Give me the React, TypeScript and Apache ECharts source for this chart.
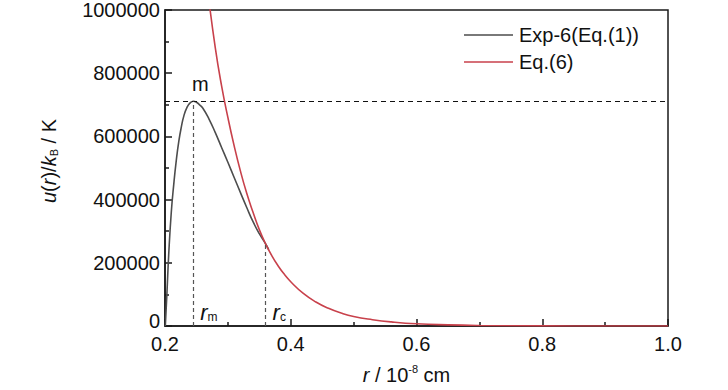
import React, { useEffect, useRef } from "react";
import * as echarts from "echarts";

const exp6R = [0.2005, 0.203, 0.206, 0.21, 0.214, 0.218, 0.222, 0.226, 0.23, 0.235, 0.24, 0.245, 0.25, 0.255, 0.26, 0.27, 0.28, 0.29, 0.3, 0.31, 0.32, 0.33, 0.34, 0.35, 0.36, 0.365];
const exp6U = [0, 100000, 230000, 360000, 450000, 525000, 585000, 630000, 665000, 692000, 706000, 711000, 708000, 700000, 690000, 655000, 612000, 565000, 518000, 470000, 422000, 375000, 330000, 292000, 260000, 242000];

const eq6R = [0.268, 0.28, 0.29, 0.3, 0.31, 0.32, 0.33, 0.34, 0.35, 0.36, 0.37, 0.38, 0.39, 0.4, 0.42, 0.44, 0.46, 0.48, 0.5, 0.53, 0.56, 0.6, 0.65, 0.7, 0.8, 0.9, 1.0];
const eq6U = [1060000, 880000, 760000, 660000, 570000, 490000, 420000, 360000, 305000, 260000, 222000, 190000, 163000, 140000, 103000, 76000, 56000, 41000, 30000, 20000, 13000, 7000, 3500, 1700, 400, 100, 20];

const rM = 0.245;
const uM = 711000;
const rC = 0.36;
const uC = 260000;

const xTicks = { min: 0.2, max: 1.0, interval: 0.2 };
const yTicks = { min: 0, max: 1000000, interval: 200000 };

const seriesNames = ["Exp-6(Eq.(1))", "Eq.(6)"];

export default function App() {
  const ref = useRef<HTMLDivElement>(null);
  useEffect(() => {
    document.body.style.margin = "0";
    if (!ref.current) return;
    const chart = echarts.init(ref.current, undefined, { renderer: "svg" });
    const font = "Liberation Sans, Arial, sans-serif";
    const axisColor = "#1a1a1a";
    const exp6Data = exp6R.map((r, i) => [r, exp6U[i]]);
    const eq6Data = eq6R.map((r, i) => [r, eq6U[i]]);
    const subLabel = (s: string) => ({
      show: true,
      position: "right",
      offset: [2, -14],
      formatter: "{i|r}{sub|" + s + "}",
      rich: {
        i: { fontStyle: "italic", fontSize: 22, fontFamily: font, color: "#111" },
        sub: { fontSize: 12, fontFamily: font, color: "#111", verticalAlign: "bottom", lineHeight: 20 },
      },
    });
    chart.setOption({
      animation: false,
      backgroundColor: "#ffffff",
      textStyle: { fontFamily: font },
      grid: {
        left: 165,
        right: 60,
        top: 9,
        bottom: 58,
        show: true,
        borderColor: axisColor,
        borderWidth: 1.5,
        backgroundColor: "transparent",
      },
      legend: {
        orient: "vertical",
        left: 459,
        top: 20,
        icon: "rect",
        itemWidth: 49,
        itemHeight: 1.5,
        itemGap: 7,
        data: seriesNames,
        textStyle: { fontSize: 20, color: "#111", fontFamily: font, padding: [0, 0, 0, 1] },
      },
      xAxis: {
        type: "value",
        min: xTicks.min,
        max: xTicks.max,
        interval: xTicks.interval,
        name: "{i|r} / 10{sup|-8} cm",
        nameLocation: "middle",
        nameGap: 37,
        nameTextStyle: {
          fontSize: 20,
          color: "#111",
          fontFamily: font,
          padding: [0, 20, 0, 0],
          rich: {
            i: { fontStyle: "italic", fontSize: 20, fontFamily: font, color: "#111" },
            sup: { fontSize: 11, fontFamily: font, color: "#111", verticalAlign: "top", lineHeight: 24 },
          },
        },
        axisLine: { show: true, lineStyle: { color: axisColor, width: 1.5 } },
        axisTick: { show: true, inside: true, length: 7, lineStyle: { color: axisColor, width: 1.5 } },
        minorTick: { show: true, splitNumber: 2, length: 4, lineStyle: { color: axisColor, width: 1.5 } },
        splitLine: { show: false },
        axisLabel: {
          fontSize: 20,
          lineHeight: 16,
          color: "#111",
          margin: 10,
          formatter: (v: number) => v.toFixed(1),
        },
      },
      yAxis: {
        type: "value",
        min: yTicks.min,
        max: yTicks.max,
        interval: yTicks.interval,
        name: "{i|u}({i|r})/{i|k}{sub|B} / K",
        nameLocation: "middle",
        nameRotate: 90,
        nameGap: 106,
        nameTextStyle: {
          fontSize: 20,
          color: "#111",
          fontFamily: font,
          padding: [0, 0, 0, 14],
          rich: {
            i: { fontStyle: "italic", fontSize: 20, fontFamily: font, color: "#111" },
            sub: { fontSize: 11, fontFamily: font, color: "#111", verticalAlign: "bottom", lineHeight: 18 },
          },
        },
        axisLine: { show: true, lineStyle: { color: axisColor, width: 1.5 } },
        axisTick: { show: true, inside: true, length: 7, lineStyle: { color: axisColor, width: 1.5 } },
        minorTick: { show: true, splitNumber: 2, length: 4, lineStyle: { color: axisColor, width: 1.5 } },
        splitLine: { show: false },
        axisLabel: {
          fontSize: 20,
          lineHeight: 15,
          color: "#111",
          margin: 5,
          formatter: (v: number) => (v === 0 ? "{z|0}" : String(Math.round(v))),
          rich: {
            z: { fontSize: 20, lineHeight: 15, fontFamily: font, color: "#111", padding: [0, 0, 10, 0] },
          },
        },
      },
      series: [
        {
          name: seriesNames[0],
          type: "line",
          data: exp6Data,
          symbol: "none",
          smooth: 0.5,
          lineStyle: { color: "#4d4d4d", width: 1.6 },
          itemStyle: { color: "#4d4d4d" },
          z: 2,
          markLine: {
            silent: true,
            symbol: "none",
            label: { show: false },
            data: [
              [
                { coord: [xTicks.min, uM], lineStyle: { color: "#111", type: [5, 4], width: 1.2 } },
                { coord: [xTicks.max, uM] },
              ],
              [
                { coord: [rM, 0], lineStyle: { color: "#555", type: [4, 3], width: 1.2 } },
                { coord: [rM, uM] },
              ],
              [
                { coord: [rC, 0], lineStyle: { color: "#555", type: [4, 3], width: 1.2 } },
                { coord: [rC, uC] },
              ],
            ],
          },
          markPoint: {
            silent: true,
            symbol: "circle",
            symbolSize: 0,
            data: [
              {
                coord: [rM, uM],
                label: {
                  show: true,
                  position: "top",
                  offset: [7, -2],
                  formatter: "m",
                  fontSize: 20,
                  color: "#111",
                  fontFamily: font,
                },
              },
              { coord: [rM, 0], label: subLabel("m") },
              { coord: [rC, 0], label: subLabel("c") },
            ],
          },
        },
        {
          name: seriesNames[1],
          type: "line",
          data: eq6Data,
          symbol: "none",
          smooth: 0.5,
          lineStyle: { color: "#c8414b", width: 1.6 },
          itemStyle: { color: "#c8414b" },
          z: 3,
        },
      ],
    });
    return () => chart.dispose();
  }, []);
  return <div ref={ref} style={{ width: 728, height: 390 }} />;
}
